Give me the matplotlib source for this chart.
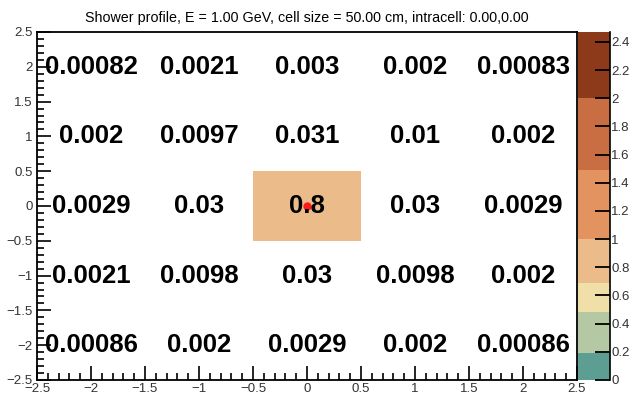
import numpy as np
import matplotlib
matplotlib.use("Agg")
import matplotlib.pyplot as plt
from matplotlib.colors import ListedColormap, BoundaryNorm
from matplotlib.ticker import MultipleLocator, FuncFormatter

plt.rcParams['font.family'] = ['Liberation Sans', 'DejaVu Sans']

# cell centres (cm / cell size units) and energy fractions, rows from top to bottom
x_centers = [-2, -1, 0, 1, 2]
y_centers = [2, 1, 0, -1, -2]
row_p2 = [0.00082, 0.0021, 0.003, 0.002, 0.00083]
row_p1 = [0.002, 0.0097, 0.031, 0.01, 0.002]
row_0 = [0.0029, 0.03, 0.8, 0.03, 0.0029]
row_m1 = [0.0021, 0.0098, 0.03, 0.0098, 0.002]
row_m2 = [0.00086, 0.002, 0.0029, 0.002, 0.00086]
hit_x = [0.0]
hit_y = [0.0]

# palette levels
levels = [0, 0.19, 0.485, 0.69, 1.0, 1.49, 2.0, 2.47]
colors = ['#5c9e92', '#b4c8a4', '#f1dfaa', '#ebbb8a', '#e2935f', '#c96e42', '#8c3a1a']
z_ticks = [0, 0.2, 0.4, 0.6, 0.8, 1.0, 1.2, 1.4, 1.6, 1.8, 2.0, 2.2, 2.4]

title = "Shower profile, E = 1.00 GeV, cell size = 50.00 cm, intracell: 0.00,0.00"

z = np.array([row_p2, row_p1, row_0, row_m1, row_m2])
edges_x = np.arange(-2.5, 2.51, 1.0)
edges_y = np.arange(2.5, -2.51, -1.0)

cmap = ListedColormap(colors)
norm = BoundaryNorm(levels, cmap.N)

def fmt(v, pos=None):
    return '{:g}'.format(round(v, 3)).replace('-', '\u2212')

W, H = 638, 395
fig = plt.figure(figsize=(W / 100, H / 100), dpi=100)
ax = fig.add_axes([37 / W, 1 - 380 / H, 540 / W, 348 / H])
cax = fig.add_axes([578 / W, 1 - 380 / H, 32 / W, 348 / H])

# ROOT leaves tiny cells unpainted
zm = np.ma.masked_less(z, 0.1)
mesh = ax.pcolormesh(edges_x, edges_y, zm, cmap=cmap, norm=norm)
ax.plot(hit_x, hit_y, 'o', color='#ff1a1a', ms=6, mec='none', zorder=3)

for i, yc in enumerate(y_centers):
    for j, xc in enumerate(x_centers):
        ax.text(xc, yc, '{:.2g}'.format(z[i, j]), ha='center', va='center',
                fontsize=18.5, fontweight='bold', color='black', zorder=4)

ax.set_xlim(-2.5, 2.5)
ax.set_ylim(-2.5, 2.5)
for a in (ax.xaxis, ax.yaxis):
    a.set_major_locator(MultipleLocator(0.5))
    a.set_minor_locator(MultipleLocator(0.1))
    a.set_major_formatter(FuncFormatter(fmt))
ax.tick_params(which='both', direction='in', top=False, right=False,
               labelsize=9.5, labelcolor='#333333', width=1.2)
ax.tick_params(which='major', length=10)
ax.tick_params(which='minor', length=5)
ax.tick_params(axis='x', pad=2)
ax.tick_params(axis='y', pad=3)
for s in ax.spines.values():
    s.set_linewidth(1.3)
ax.set_title(title, fontsize=10.3, pad=7)

cb = fig.colorbar(mesh, cax=cax, boundaries=levels, spacing='proportional')
cb.outline.set_visible(False)
cax.set_ylim(0, 2.47)
cax.spines['right'].set_visible(True)
cax.spines['right'].set_linewidth(1.2)
cax.yaxis.tick_right()
cax.set_yticks(z_ticks)
cax.set_yticklabels([fmt(t) for t in z_ticks])
cax.tick_params(direction='in', length=11, width=1.3, labelsize=9.5,
                labelcolor='#333333', pad=1)
cax.minorticks_off()

fig.savefig('out.png', dpi=100)
